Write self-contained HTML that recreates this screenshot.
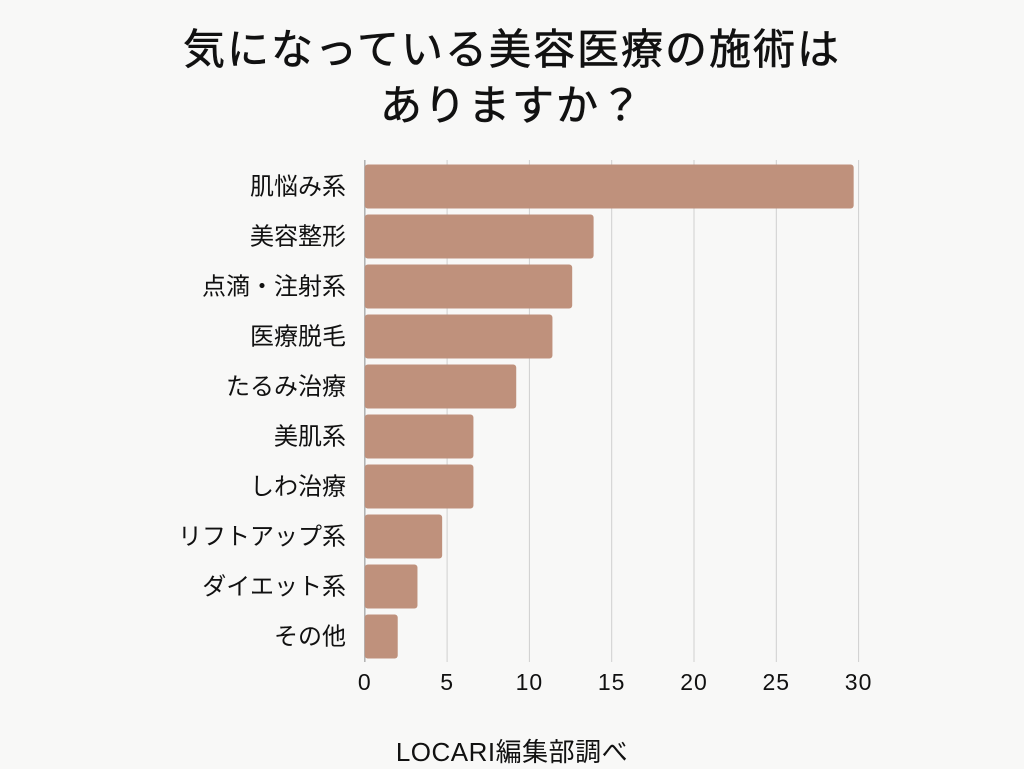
<!DOCTYPE html>
<html><head><meta charset="utf-8">
<style>
html,body{margin:0;padding:0;background:#f8f8f7;}
body{width:1024px;height:768px;position:relative;overflow:hidden;font-family:"Liberation Sans","Noto Sans CJK JP",sans-serif;color:#111;}
#title{position:absolute;left:0;top:22px;width:1024px;text-align:center;font-size:42px;line-height:56px;letter-spacing:2px;font-weight:400;-webkit-text-stroke:0.6px #111;}
#src{position:absolute;left:0;top:732px;width:1024px;text-align:center;font-size:26px;letter-spacing:0.5px;}
</style></head>
<body>
<div id="title">気になっている美容医療の施術は<br>ありますか？</div>
<svg id="chart" width="1024" height="768" style="position:absolute;left:0;top:0"></svg>
<div id="src">LOCARI編集部調べ</div>
<script>
const categories=["肌悩み系","美容整形","点滴・注射系","医療脱毛","たるみ治療","美肌系","しわ治療","リフトアップ系","ダイエット系","その他"];
const values=[29.7,13.9,12.6,11.4,9.2,6.6,6.6,4.7,3.2,2.0];
const ticks=[0,5,10,15,20,25,30];
const NS="http://www.w3.org/2000/svg";
const svg=document.getElementById('chart');
const x0=364.8,pxPer=16.46,top0=164.5,pitch=50,bh=44;
function xs(v){return x0+v*pxPer;}
function ys(i){return top0+i*pitch;}
function mk(t,a){const e=document.createElementNS(NS,t);for(const k in a)e.setAttribute(k,a[k]);svg.appendChild(e);return e;}
ticks.forEach(t=>{
  if(t>0){const l=mk('line',{x1:xs(t),x2:xs(t),y1:160,y2:662,stroke:'#cfcfcf','stroke-width':1});
  
  }
  const tx=mk('text',{x:xs(t),y:690,'text-anchor':'middle','font-size':23,'letter-spacing':1,fill:'#111','font-family':'Liberation Sans, sans-serif'});
  tx.textContent=t;
  
  
});
mk('line',{x1:x0,x2:x0,y1:160,y2:662,stroke:'#b0b0b0','stroke-width':1.5});
categories.forEach((c,i)=>{
  const r=mk('rect',{x:x0,y:ys(i),width:xs(values[i])-x0,height:bh,rx:3,fill:'#bf917c'});
  
  
  const t=mk('text',{x:346,y:ys(i)+bh/2+8,'text-anchor':'end','font-size':24,fill:'#111','font-family':'Liberation Sans, Noto Sans CJK JP, sans-serif'});
  t.textContent=c;
  
  
});
</script>
</body></html>
